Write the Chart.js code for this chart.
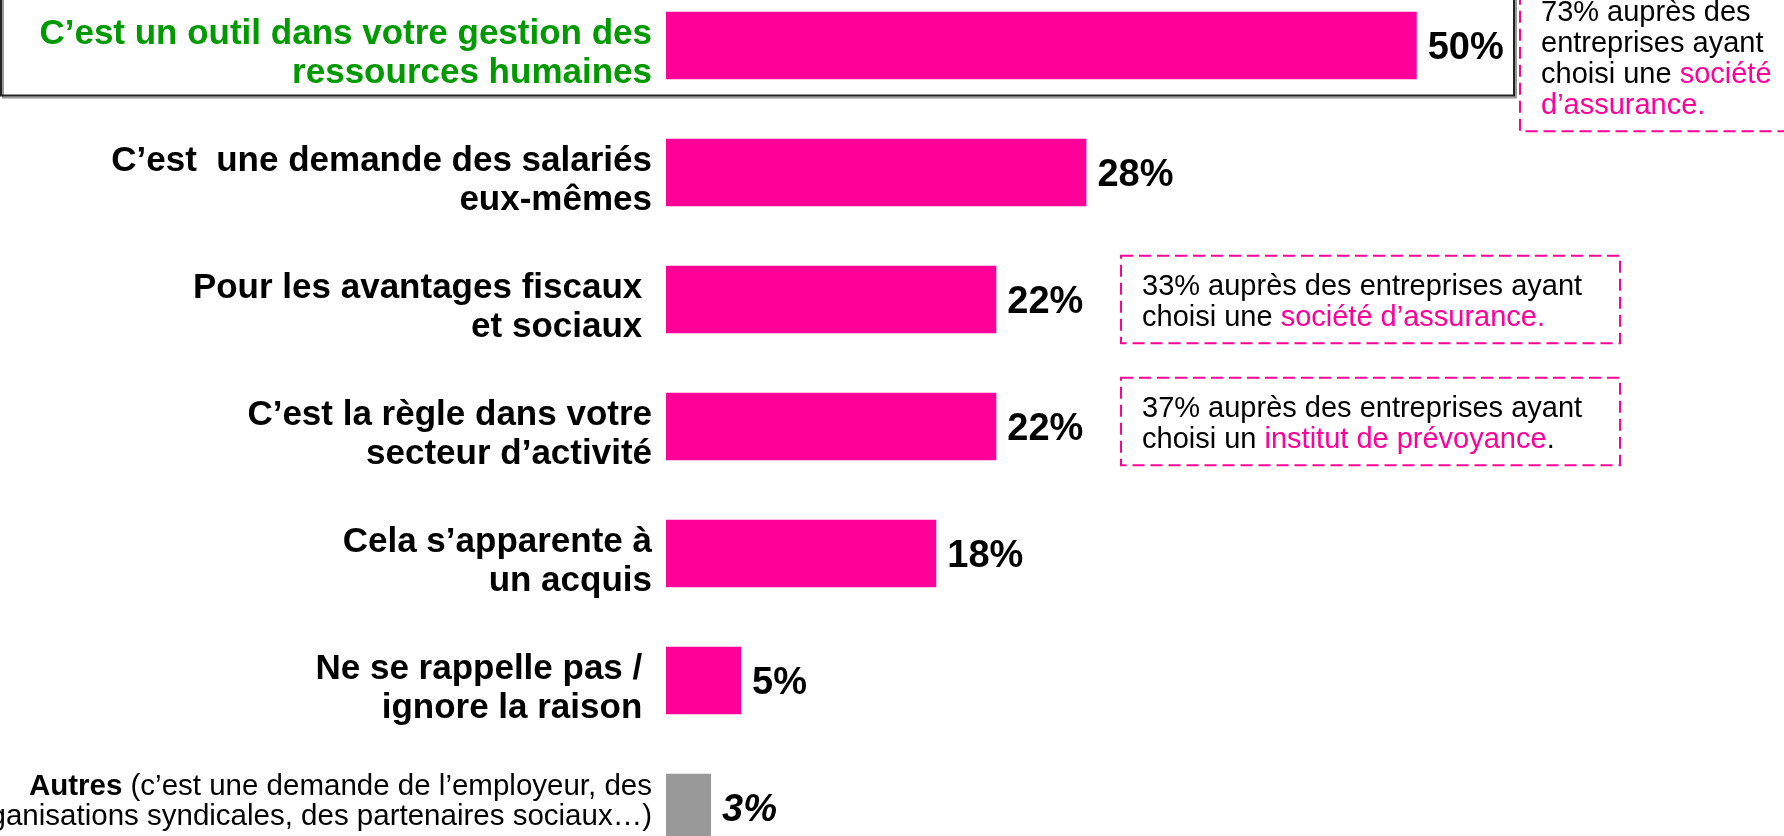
<!DOCTYPE html>
<html>
<head>
<meta charset="utf-8">
<script src="https://cdn.jsdelivr.net/npm/chart.js@4/dist/chart.umd.min.js"></script>
<style>
  html, body { margin: 0; padding: 0; background: #fff; overflow: hidden; width: 1784px; height: 836px; }
  #wrap { position: absolute; left: 0; top: -18px; width: 1784px; height: 889px; }
</style>
</head>
<body>
<div id="wrap"><canvas id="chart" width="1784" height="889"></canvas></div>
<script>
// categories (one array of lines per bar)
const categories = [
  ["C’est un outil dans votre gestion des", "ressources humaines"],
  ["C’est  une demande des salariés", "eux-mêmes"],
  ["Pour les avantages fiscaux ", "et sociaux "],
  ["C’est la règle dans votre", "secteur d’activité"],
  ["Cela s’apparente à", "un acquis"],
  ["Ne se rappelle pas / ", "ignore la raison "],
  ["Autres (c’est une demande de l’employeur, des", "organisations syndicales, des partenaires sociaux…)"]
];
const values = [50, 28, 22, 22, 18, 5, 3];

// side notes : [category index, lines]; each line is a list of [text, highlighted]
const noteIndex = [0, 2, 3];
const noteLines = [
  [[["73% auprès des", false]], [["entreprises ayant", false]], [["choisi une ", false], ["société", true]], [["d’assurance.", true]]],
  [[["33% auprès des entreprises ayant", false]], [["choisi une ", false], ["société d’assurance.", true]]],
  [[["37% auprès des entreprises ayant", false]], [["choisi un ", false], ["institut de prévoyance", true], [".", false]]]
];

const PINK = "#ff0099";
const GREY = "#999999";
const GREEN = "#009900";
const FONT = "'Liberation Sans', Arial, sans-serif";

const barColors = values.map((v, i) => i === values.length - 1 ? GREY : PINK);

// box placement for the notes (x in px, dy relative to the bar centre)
const noteBoxes = [
  { left: 1520, width: 330, dy: 11 },
  { left: 1121, width: 499, dy: 0 },
  { left: 1121, width: 499, dy: -5 }
];

const labelsPlugin = {
  id: "labels",
  afterDraw(chart) {
    const ctx = chart.ctx;
    const yScale = chart.scales.y;
    const meta = chart.getDatasetMeta(0);
    const rightX = 652;

    ctx.save();
    categories.forEach((lines, i) => {
      const cy = yScale.getPixelForValue(i);
      const last = i === categories.length - 1;
      const size = last ? 29.5 : 35;
      const lh = last ? 30 : 39;
      const shift = last ? -8 : 5;
      const cap = size * 0.716;
      ctx.textAlign = "left";
      ctx.textBaseline = "alphabetic";
      lines.forEach((line, k) => {
        const by = cy + shift + (k - (lines.length - 1) / 2) * lh + cap / 2;
        if (last && k === 0) {
          const head = "Autres";
          const rest = line.slice(head.length);
          ctx.font = "bold " + size + "px " + FONT;
          const w1 = ctx.measureText(head).width;
          ctx.font = size + "px " + FONT;
          const w2 = ctx.measureText(rest).width;
          ctx.fillStyle = "#000";
          ctx.font = "bold " + size + "px " + FONT;
          ctx.fillText(head, rightX - w1 - w2, by);
          ctx.font = size + "px " + FONT;
          ctx.fillText(rest, rightX - w2, by);
        } else {
          ctx.font = (last ? "" : "bold ") + size + "px " + FONT;
          ctx.fillStyle = i === 0 ? GREEN : "#000";
          const w = ctx.measureText(line).width;
          ctx.fillText(line, rightX - w, by);
        }
      });
    });

    // box around the first label
    const c0 = yScale.getPixelForValue(0);
    ctx.strokeStyle = "#999";
    ctx.lineWidth = 2;
    ctx.strokeRect(3, -10, 1513, c0 + 52 + 10);
    ctx.strokeStyle = "#222";
    ctx.strokeRect(1, -12, 1513, c0 + 52 + 10);

    // value labels
    meta.data.forEach((bar, i) => {
      const last = i === values.length - 1;
      ctx.font = (last ? "italic bold " : "bold ") + "38px " + FONT;
      ctx.fillStyle = "#000";
      ctx.fillText(values[i] + "%", bar.x + 11, bar.y + 38 * 0.716 / 2);
    });

    // dashed notes
    noteIndex.forEach((idx, n) => {
      const box = noteBoxes[n];
      const lines = noteLines[n];
      const cy = yScale.getPixelForValue(idx) + box.dy;
      const h = 56.5 + (lines.length - 1) * 31;
      const top = cy - h / 2;
      ctx.setLineDash([12, 6]);
      ctx.strokeStyle = PINK;
      ctx.lineWidth = 2;
      ctx.strokeRect(box.left, top, box.width, h);
      ctx.setLineDash([]);
      ctx.font = "29px " + FONT;
      lines.forEach((segs, k) => {
        let x = box.left + 21;
        const by = top + 39 + k * 31;
        segs.forEach(([t, hl]) => {
          ctx.fillStyle = hl ? PINK : "#000";
          ctx.fillText(t, x, by);
          x += ctx.measureText(t).width;
        });
      });
    });
    ctx.restore();
  }
};

new Chart(document.getElementById("chart"), {
  type: "bar",
  data: {
    labels: categories,
    datasets: [{
      data: values,
      backgroundColor: barColors,
      borderWidth: 0,
      categoryPercentage: 1,
      barPercentage: 0.53
    }]
  },
  options: {
    indexAxis: "y",
    responsive: false,
    animation: false,
    layout: { padding: { left: 666, right: 67, top: 0, bottom: 0 } },
    scales: {
      x: { display: false, min: 0, max: 70 },
      y: { display: false }
    },
    plugins: {
      legend: { display: false },
      tooltip: { enabled: false }
    }
  },
  plugins: [labelsPlugin]
});
</script>
</body>
</html>
